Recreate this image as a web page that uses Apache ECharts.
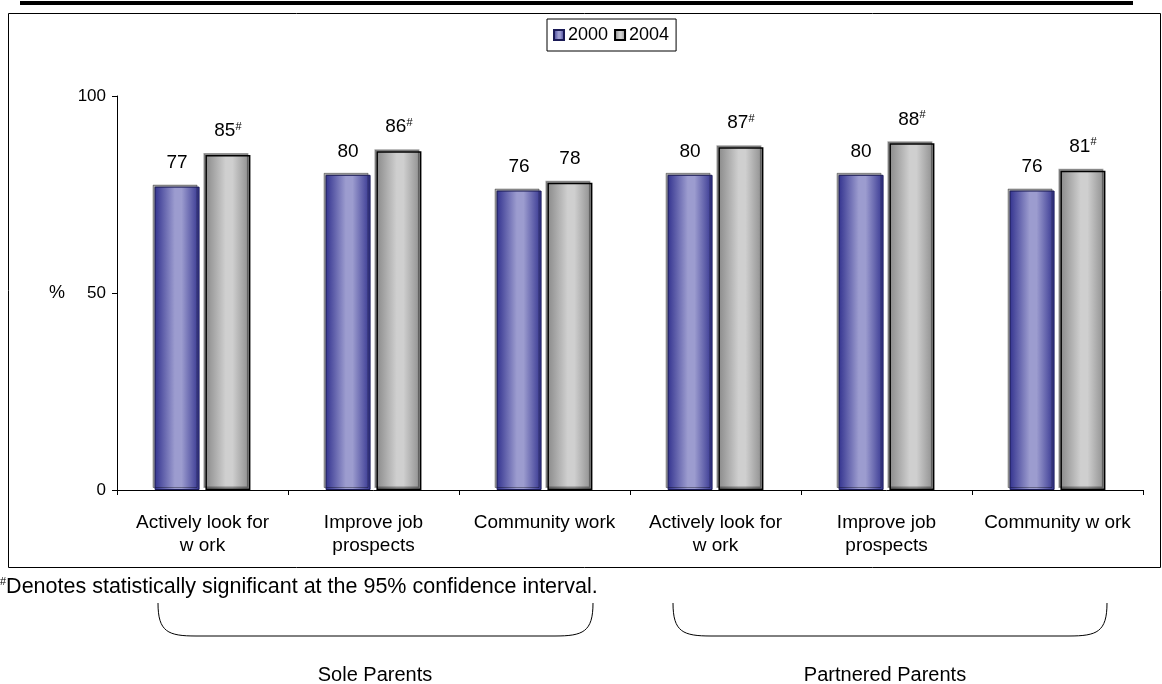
<!DOCTYPE html>
<html>
<head>
<meta charset="utf-8">
<script src="https://cdn.jsdelivr.net/npm/echarts@6/dist/echarts.min.js"></script>
<style>
  html, body { margin: 0; padding: 0; background: #fff; }
  #chart { width: 1162px; height: 684px; }
</style>
</head>
<body>
<div id="chart"></div>
<script>
// Activity categories, first three for sole parents, last three for partnered parents
const categories = [
  'Actively look for\nw ork',
  'Improve job\nprospects',
  'Community work',
  'Actively look for\nw ork',
  'Improve job\nprospects',
  'Community w ork'
];
const values2000 = [77, 80, 76, 80, 80, 76];
const values2004 = [85, 86, 78, 87, 88, 81];
// true where the 2004 change is statistically significant (marked with #)
const significant2004 = [true, true, false, true, true, true];
const yTicks = [0, 50, 100];
const groupNames = ['Sole Parents', 'Partnered Parents'];

const FONT = 'Liberation Sans, Arial, sans-serif';

function hGrad(edge, mid) {
  return new echarts.graphic.LinearGradient(0, 0, 1, 0, [
    { offset: 0, color: edge },
    { offset: 0.45, color: mid },
    { offset: 0.6, color: mid },
    { offset: 1, color: edge }
  ]);
}

// curly bracket under a group of categories, built from two curves and a line
function brace(x1, x2, yTop, yBot) {
  const r = 38;
  const st = { fill: null, stroke: '#000', lineWidth: 1 };
  return [
    { type: 'bezierCurve', shape: { x1: x1, y1: yTop, cpx1: x1, cpy1: yBot - 4, cpx2: x1 + 10, cpy2: yBot, x2: x1 + r, y2: yBot }, style: st },
    { type: 'line', shape: { x1: x1 + r, y1: yBot, x2: x2 - r, y2: yBot }, style: st },
    { type: 'bezierCurve', shape: { x1: x2 - r, y1: yBot, cpx1: x2 - 10, cpy1: yBot, cpx2: x2, cpy2: yBot - 4, x2: x2, y2: yTop }, style: st }
  ];
}

const chart = echarts.init(document.getElementById('chart'), null, { renderer: 'canvas' });

const labelRich = {
  v: { fontSize: 19, fontFamily: FONT, color: '#000' },
  s: { fontSize: 11, fontFamily: FONT, color: '#000', padding: [0, 0, 9, 0] }
};

chart.setOption({
  animation: false,
  backgroundColor: '#fff',
  textStyle: { fontFamily: FONT },
  legend: {
    left: 547,
    top: 19,
    padding: [7, 7, 7, 6],
    itemGap: 6,
    itemWidth: 10,
    itemHeight: 10,
    borderColor: '#000',
    borderWidth: 1,
    icon: 'rect',
    textStyle: { fontSize: 18, fontFamily: FONT, color: '#000', padding: [0, 0, 0, -1] },
    data: ['2000', '2004']
  },
  grid: { left: 117, right: 19, top: 96, bottom: 194, containLabel: false },
  xAxis: {
    type: 'category',
    data: categories,
    axisLine: { lineStyle: { color: '#000', width: 1 } },
    axisTick: { show: true, length: 5, lineStyle: { color: '#000' } },
    axisLabel: { fontSize: 19, fontFamily: FONT, color: '#000', margin: 21, lineHeight: 23, interval: 0 }
  },
  yAxis: {
    type: 'value',
    min: yTicks[0],
    max: yTicks[yTicks.length - 1],
    interval: 50,
    name: '%',
    nameLocation: 'middle',
    nameRotate: 0,
    nameGap: 52,
    nameTextStyle: { fontSize: 18, fontFamily: FONT, color: '#000' },
    axisLine: { show: true, lineStyle: { color: '#000', width: 1 } },
    axisTick: { show: true, length: 5, lineStyle: { color: '#000' } },
    splitLine: { show: false },
    axisLabel: { fontSize: 17, fontFamily: FONT, color: '#000', margin: 11 }
  },
  series: [
    {
      name: '2000',
      type: 'bar',
      data: values2000,
      barWidth: 45,
      barGap: '13%',
      itemStyle: {
        color: hGrad('#33338f', '#9c9ccf'),
        borderColor: '#1a1a55',
        borderWidth: 1,
        shadowColor: 'rgba(0,0,0,0.35)',
        shadowOffsetX: -2,
        shadowOffsetY: -2
      },
      label: {
        show: true,
        position: 'top',
        distance: 14,
        formatter: p => '{v|' + p.value + '}',
        rich: labelRich
      }
    },
    {
      name: '2004',
      type: 'bar',
      data: values2004,
      barWidth: 45,
      itemStyle: {
        color: hGrad('#8a8a8a', '#cfcfcf'),
        borderColor: '#000',
        borderWidth: 1.5,
        shadowColor: 'rgba(0,0,0,0.35)',
        shadowOffsetX: -2,
        shadowOffsetY: -2
      },
      label: {
        show: true,
        position: 'top',
        distance: 14,
        formatter: p => '{v|' + p.value + '}' + (significant2004[p.dataIndex] ? '{s|#}' : ''),
        rich: labelRich
      }
    }
  ],
  graphic: [
    // heavy rule across the top
    { type: 'rect', shape: { x: 20, y: 1, width: 1113, height: 4 }, style: { fill: '#000' }, silent: true },
    // frame around the chart area
    { type: 'rect', shape: { x: 8.5, y: 13.5, width: 1152, height: 554 }, style: { fill: null, stroke: '#000', lineWidth: 1 }, silent: true, z: -1 },
    // footnote
    {
      type: 'text', x: 0, y: 576,
      style: {
        text: '{s|#}{t|Denotes statistically significant at the 95% confidence interval.}',
        rich: {
          s: { fontSize: 11, fontFamily: FONT, fill: '#000', padding: [0, 0, 10, 0] },
          t: { fontSize: 21.5, fontFamily: FONT, fill: '#000' }
        }
      }
    },
    ...brace(158, 593, 603, 636),
    ...brace(673, 1107, 603, 636),
    {
      type: 'text', x: 375, y: 675,
      style: { text: groupNames[0], fontSize: 20, fontFamily: FONT, fill: '#000', textAlign: 'center', textVerticalAlign: 'middle' }
    },
    {
      type: 'text', x: 885, y: 675,
      style: { text: groupNames[1], fontSize: 20, fontFamily: FONT, fill: '#000', textAlign: 'center', textVerticalAlign: 'middle' }
    }
  ]
});
</script>
</body>
</html>
